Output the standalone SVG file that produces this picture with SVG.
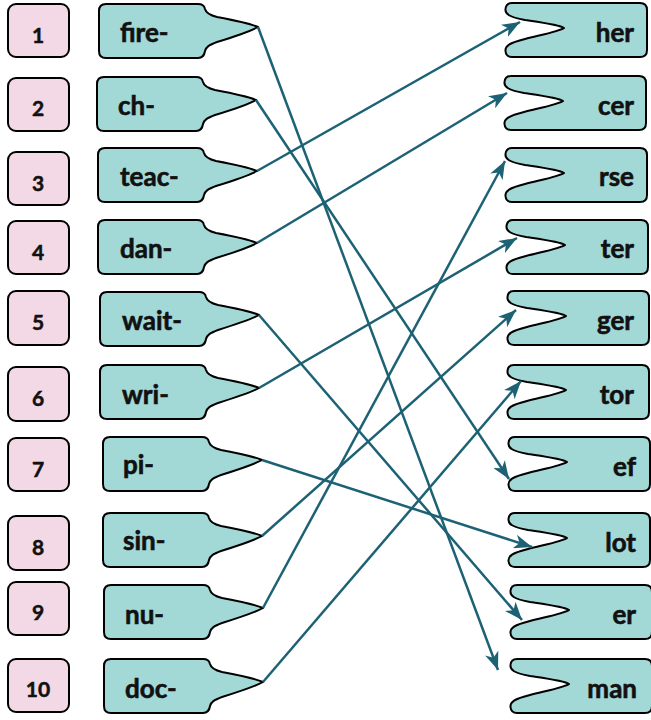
<svg xmlns="http://www.w3.org/2000/svg" xmlns:xlink="http://www.w3.org/1999/xlink" width="651" height="720" viewBox="0 0 651 720">
<style>
.num{fill:#f2d9e5;stroke:#000;stroke-width:2}
.pc{fill:#a2d8d6;stroke:#000;stroke-width:2;stroke-linejoin:round}
.nt{font-family:Lato,"Liberation Sans",sans-serif;font-weight:bold;font-size:21px;fill:#111;stroke:#111;stroke-width:0.5;text-anchor:middle}
.lt{font-family:Lato,"Liberation Sans",sans-serif;font-weight:bold;font-size:26px;fill:#111;stroke:#111;stroke-width:0.6}
.rt{font-family:Lato,"Liberation Sans",sans-serif;font-weight:bold;font-size:26px;fill:#111;stroke:#111;stroke-width:0.6;text-anchor:end}
.ln{stroke:#1d6274;stroke-width:2.5;fill:none;marker-end:url(#ah)}
</style>
<defs>
<marker id="ah" markerUnits="userSpaceOnUse" markerWidth="20" markerHeight="14" refX="18" refY="7" orient="auto">
<path d="M0,0 L18,7 L0,14 L5,7 Z" fill="#1d6274"/>
</marker>
<path id="lp" class="pc" d="M7,0 H99 Q105,0 106,5 C107,9 110,11 118,13 C134,16 150,19 159,23 C150,28 134,33 118,38 C110,41 107,43 106,47 Q105,54 99,54 H7 Q0,54 0,47 V7 Q0,0 7,0 Z"/>
<path id="rp" class="pc" d="M7,0 H135 Q142,0 142,7 V47 Q142,54 135,54 H7 Q1,54 0.5,48 C0,43 4,40 20,36 C40,31 55,28 59,25 C55,22 40,20 20,17 C4,14 0,11 0.5,6 Q1,0 7,0 Z"/>
</defs>

<g id="numbers">
<g id="n1"><rect class="num" x="8" y="4" width="61" height="53" rx="8"/><text class="nt" x="38" y="43">1</text></g>
<g id="n2"><rect class="num" x="8" y="78" width="61" height="53" rx="8"/><text class="nt" x="38" y="116">2</text></g>
<g id="n3"><rect class="num" x="8" y="152" width="61" height="53" rx="8"/><text class="nt" x="38" y="191">3</text></g>
<g id="n4"><rect class="num" x="8" y="221" width="61" height="53" rx="8"/><text class="nt" x="38" y="260">4</text></g>
<g id="n5"><rect class="num" x="8" y="291" width="61" height="54" rx="8"/><text class="nt" x="38" y="330">5</text></g>
<g id="n6"><rect class="num" x="8" y="367" width="61" height="54" rx="8"/><text class="nt" x="38" y="406">6</text></g>
<g id="n7"><rect class="num" x="8" y="438" width="61" height="53" rx="8"/><text class="nt" x="38" y="477">7</text></g>
<g id="n8"><rect class="num" x="8" y="516" width="61" height="54" rx="8"/><text class="nt" x="38" y="555">8</text></g>
<g id="n9"><rect class="num" x="8" y="582" width="61" height="53" rx="8"/><text class="nt" x="38" y="620">9</text></g>
<g id="n10"><rect class="num" x="8" y="659" width="61" height="53" rx="8"/><text class="nt" x="38" y="697">10</text></g>
</g>

<g id="left">
<g id="l1"><use xlink:href="#lp" href="#lp" x="99" y="4"/><text class="lt" x="120" y="42">fire-</text></g>
<g id="l2"><use xlink:href="#lp" href="#lp" x="97" y="77"/><text class="lt" x="118" y="115">ch-</text></g>
<g id="l3"><use xlink:href="#lp" href="#lp" x="98" y="148"/><text class="lt" x="120" y="186">teac-</text></g>
<g id="l4"><use xlink:href="#lp" href="#lp" x="98" y="220"/><text class="lt" x="120" y="258">dan-</text></g>
<g id="l5"><use xlink:href="#lp" href="#lp" x="100" y="292"/><text class="lt" x="122" y="330">wait-</text></g>
<g id="l6"><use xlink:href="#lp" href="#lp" x="100" y="365"/><text class="lt" x="122" y="404">wri-</text></g>
<g id="l7"><use xlink:href="#lp" href="#lp" x="103" y="437"/><text class="lt" x="123" y="474">pi-</text></g>
<g id="l8"><use xlink:href="#lp" href="#lp" x="103" y="513"/><text class="lt" x="123" y="550">sin-</text></g>
<g id="l9"><use xlink:href="#lp" href="#lp" x="104" y="585"/><text class="lt" x="125" y="624">nu-</text></g>
<g id="l10"><use xlink:href="#lp" href="#lp" x="104" y="659"/><text class="lt" x="125" y="698">doc-</text></g>
</g>

<g id="right">
<g id="r1"><use xlink:href="#rp" href="#rp" x="505" y="3"/><text class="rt" x="634" y="42">her</text></g>
<g id="r2"><use xlink:href="#rp" href="#rp" x="504" y="76"/><text class="rt" x="634" y="115">cer</text></g>
<g id="r3"><use xlink:href="#rp" href="#rp" x="505" y="148"/><text class="rt" x="634" y="186">rse</text></g>
<g id="r4"><use xlink:href="#rp" href="#rp" x="506" y="220"/><text class="rt" x="634" y="258">ter</text></g>
<g id="r5"><use xlink:href="#rp" href="#rp" x="507" y="291"/><text class="rt" x="634" y="330">ger</text></g>
<g id="r6"><use xlink:href="#rp" href="#rp" x="507" y="365"/><text class="rt" x="634" y="404">tor</text></g>
<g id="r7"><use xlink:href="#rp" href="#rp" x="508" y="437"/><text class="rt" x="636" y="476">ef</text></g>
<g id="r8"><use xlink:href="#rp" href="#rp" x="508" y="513"/><text class="rt" x="636" y="552">lot</text></g>
<g id="r9"><use xlink:href="#rp" href="#rp" x="510" y="585"/><text class="rt" x="636" y="624">er</text></g>
<g id="r10"><use xlink:href="#rp" href="#rp" x="510" y="659"/><text class="rt" x="637" y="698">man</text></g>
</g>

<g id="connectors">
<line class="ln" x1="258" y1="27" x2="498" y2="670"/>
<line class="ln" x1="256" y1="100" x2="509" y2="479"/>
<line class="ln" x1="257" y1="171" x2="520" y2="22"/>
<line class="ln" x1="257" y1="243" x2="507" y2="93"/>
<line class="ln" x1="259" y1="315" x2="522" y2="620"/>
<line class="ln" x1="259" y1="388" x2="517" y2="238"/>
<line class="ln" x1="262" y1="460" x2="532" y2="547"/>
<line class="ln" x1="262" y1="536" x2="516" y2="310"/>
<line class="ln" x1="263" y1="608" x2="505" y2="161"/>
<line class="ln" x1="263" y1="682" x2="521" y2="381"/>
</g>
</svg>
